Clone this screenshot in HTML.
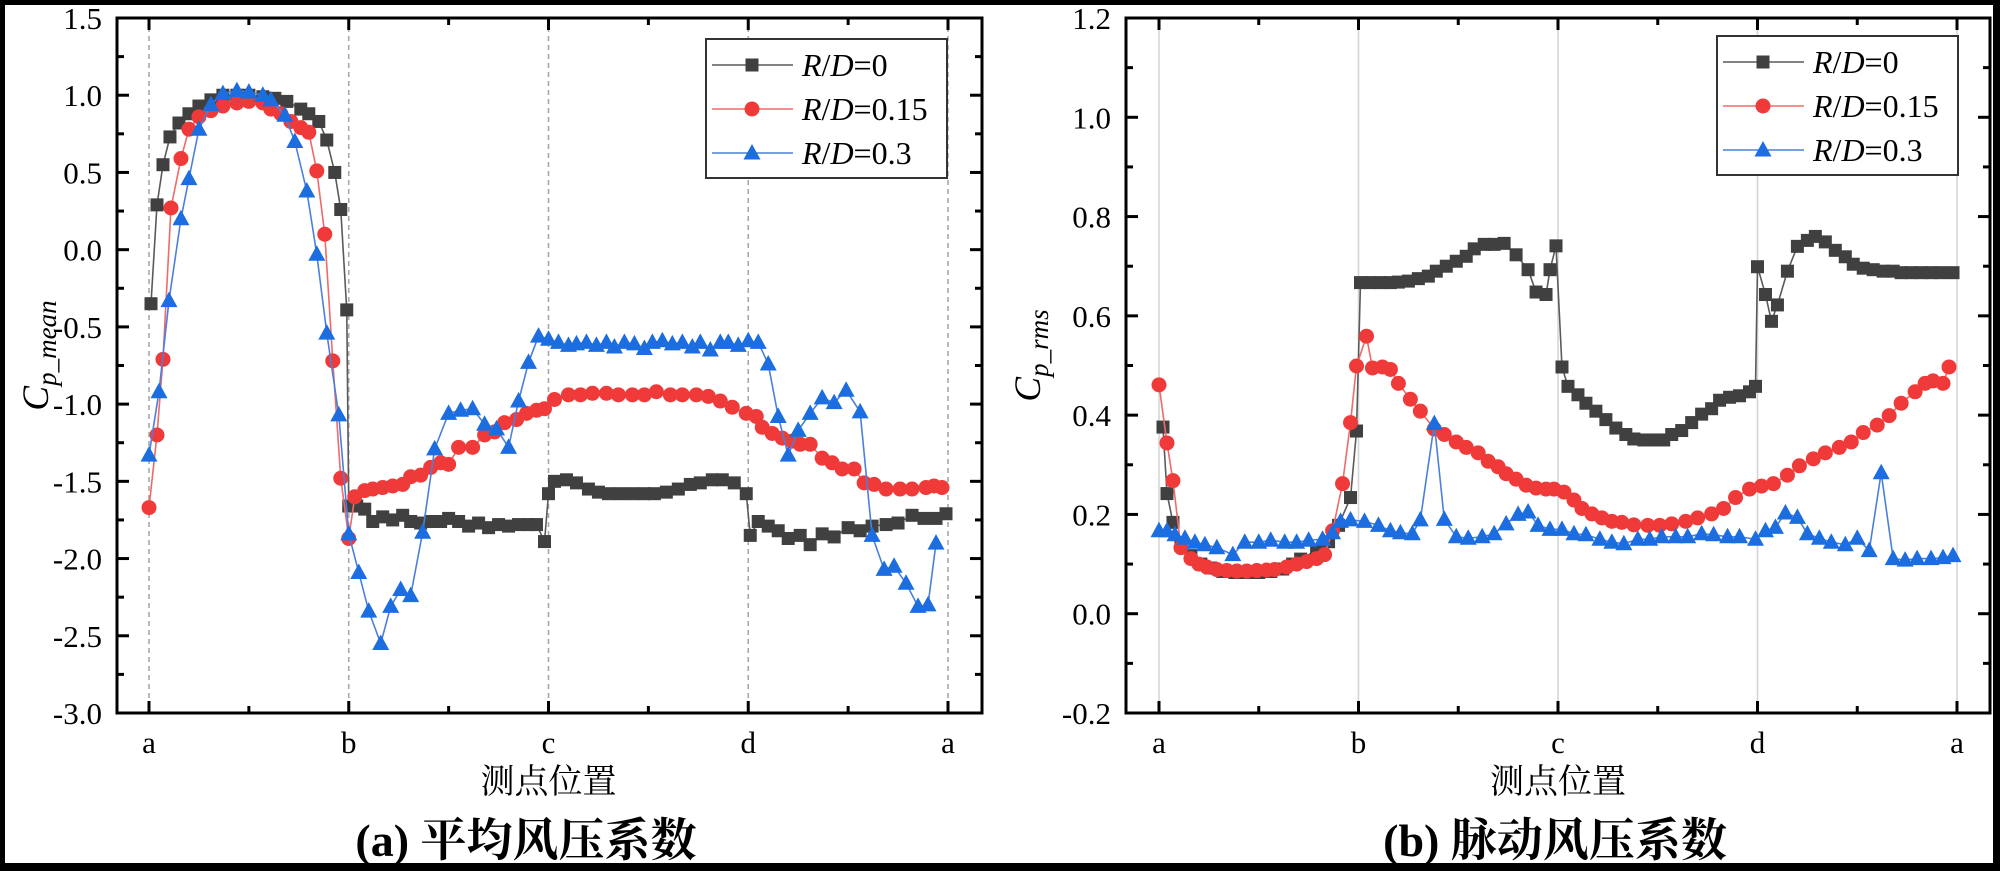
<!DOCTYPE html>
<html><head><meta charset="utf-8">
<style>
html,body{margin:0;padding:0;background:#fff;}
svg{display:block;}
text{font-family:"Liberation Serif","Noto Serif CJK SC",serif;}
</style></head>
<body>
<svg id="fig" width="2000" height="871" viewBox="0 0 2000 871" xmlns="http://www.w3.org/2000/svg">
<rect x="0" y="0" width="2000" height="871" fill="#fff"/>
</svg>
<script>
const catLabels = ['a','b','c','d','a'];

const meanRD0 = [[0.01,-0.35],[0.04,0.29],[0.07,0.55],[0.105,0.73],[0.15,0.82],[0.2,0.88],[0.25,0.93],[0.31,0.97],[0.37,1.0],[0.44,1.0],[0.5,1.0],[0.57,0.99],[0.63,0.98],[0.69,0.96],[0.76,0.91],[0.8,0.88],[0.85,0.83],[0.89,0.71],[0.93,0.5],[0.96,0.26],[0.99,-0.39],
[1.0,-1.66],[1.04,-1.66],[1.08,-1.68],[1.12,-1.76],[1.17,-1.73],[1.22,-1.75],[1.27,-1.72],[1.31,-1.76],[1.36,-1.77],[1.41,-1.76],[1.46,-1.76],[1.5,-1.74],[1.55,-1.76],[1.6,-1.79],[1.65,-1.77],[1.7,-1.8],[1.75,-1.78],[1.8,-1.79],[1.85,-1.78],[1.9,-1.78],[1.94,-1.78],[1.98,-1.89],
[2.0,-1.58],[2.03,-1.5],[2.09,-1.49],[2.14,-1.51],[2.2,-1.55],[2.25,-1.57],[2.3,-1.58],[2.36,-1.58],[2.42,-1.58],[2.48,-1.58],[2.53,-1.58],[2.59,-1.57],[2.65,-1.55],[2.71,-1.52],[2.76,-1.51],[2.82,-1.49],[2.87,-1.49],[2.93,-1.51],[2.99,-1.58],
[3.01,-1.85],[3.05,-1.76],[3.1,-1.79],[3.15,-1.82],[3.2,-1.87],[3.26,-1.85],[3.31,-1.91],[3.37,-1.84],[3.43,-1.86],[3.5,-1.8],[3.56,-1.82],[3.62,-1.79],[3.69,-1.78],[3.75,-1.77],[3.82,-1.72],[3.88,-1.74],[3.94,-1.74],[3.99,-1.71]];
const meanRD015 = [[0,-1.67],[0.04,-1.2],[0.07,-0.71],[0.11,0.27],[0.16,0.59],[0.2,0.78],[0.25,0.86],[0.31,0.9],[0.37,0.93],[0.44,0.95],[0.5,0.96],[0.57,0.95],[0.61,0.91],[0.66,0.88],[0.71,0.83],[0.76,0.79],[0.8,0.76],[0.84,0.51],[0.88,0.1],[0.92,-0.72],[0.96,-1.48],[1.0,-1.87],
[1.03,-1.6],[1.08,-1.56],[1.12,-1.55],[1.17,-1.54],[1.22,-1.53],[1.27,-1.52],[1.31,-1.47],[1.36,-1.46],[1.41,-1.41],[1.46,-1.38],[1.5,-1.39],[1.55,-1.28],[1.62,-1.28],[1.68,-1.2],[1.73,-1.18],[1.78,-1.12],[1.84,-1.1],[1.89,-1.06],[1.94,-1.04],[1.98,-1.03],
[2.03,-0.97],[2.1,-0.94],[2.16,-0.94],[2.22,-0.93],[2.29,-0.93],[2.35,-0.94],[2.42,-0.94],[2.48,-0.94],[2.54,-0.92],[2.61,-0.94],[2.67,-0.94],[2.74,-0.94],[2.8,-0.95],[2.86,-0.98],[2.92,-1.02],[2.99,-1.06],
[3.04,-1.08],[3.07,-1.15],[3.12,-1.19],[3.17,-1.22],[3.22,-1.24],[3.26,-1.26],[3.31,-1.26],[3.37,-1.35],[3.42,-1.38],[3.47,-1.42],[3.53,-1.42],[3.58,-1.51],[3.63,-1.52],[3.69,-1.55],[3.76,-1.55],[3.82,-1.55],[3.89,-1.54],[3.93,-1.53],[3.97,-1.54]];
const meanRD03 = [[0,-1.33],[0.05,-0.92],[0.1,-0.33],[0.16,0.2],[0.2,0.46],[0.25,0.78],[0.31,0.94],[0.37,1.01],[0.44,1.03],[0.5,1.02],[0.57,1.0],[0.61,0.97],[0.68,0.87],[0.73,0.7],[0.79,0.38],[0.84,-0.03],[0.89,-0.54],[0.95,-1.07],[1.0,-1.84],
[1.05,-2.09],[1.1,-2.34],[1.16,-2.55],[1.21,-2.31],[1.26,-2.2],[1.31,-2.24],[1.37,-1.83],[1.43,-1.29],[1.5,-1.06],[1.56,-1.04],[1.62,-1.03],[1.68,-1.13],[1.74,-1.16],[1.8,-1.28],[1.85,-0.98],[1.9,-0.73],[1.95,-0.56],
[2.0,-0.58],[2.05,-0.6],[2.1,-0.62],[2.14,-0.61],[2.19,-0.6],[2.24,-0.62],[2.29,-0.6],[2.33,-0.63],[2.38,-0.6],[2.43,-0.61],[2.48,-0.64],[2.52,-0.6],[2.57,-0.59],[2.62,-0.61],[2.67,-0.6],[2.72,-0.63],[2.76,-0.6],[2.81,-0.65],[2.86,-0.6],[2.9,-0.6],[2.95,-0.62],[3.0,-0.59],
[3.05,-0.6],[3.1,-0.74],[3.15,-1.08],[3.2,-1.33],[3.25,-1.17],[3.31,-1.06],[3.37,-0.96],[3.43,-0.99],[3.49,-0.91],[3.56,-1.05],[3.62,-1.85],[3.68,-2.07],[3.73,-2.05],[3.79,-2.16],[3.85,-2.31],[3.9,-2.3],[3.94,-1.9]];
const meanTicks = [1.5,1.0,0.5,0.0,-0.5,-1.0,-1.5,-2.0,-2.5,-3.0];

const rmsRD0 = [[0.02,0.376],[0.04,0.242],[0.07,0.184],[0.11,0.139],[0.16,0.117],[0.21,0.1],[0.26,0.092],[0.32,0.085],[0.38,0.083],[0.44,0.083],[0.5,0.083],[0.56,0.085],[0.62,0.09],[0.67,0.1],[0.71,0.11],[0.79,0.128],[0.85,0.145],[0.9,0.178],[0.96,0.234],[0.99,0.368],
[1.01,0.667],[1.06,0.667],[1.11,0.667],[1.16,0.667],[1.2,0.668],[1.25,0.67],[1.3,0.675],[1.35,0.68],[1.39,0.69],[1.44,0.7],[1.49,0.71],[1.54,0.72],[1.58,0.735],[1.63,0.744],[1.68,0.744],[1.73,0.746],[1.79,0.723],[1.85,0.693],[1.89,0.648],[1.94,0.643],[1.96,0.693],[1.99,0.741],
[2.02,0.497],[2.05,0.458],[2.1,0.441],[2.14,0.424],[2.19,0.408],[2.24,0.391],[2.29,0.374],[2.34,0.361],[2.38,0.352],[2.43,0.35],[2.48,0.35],[2.53,0.35],[2.57,0.361],[2.62,0.369],[2.67,0.385],[2.72,0.402],[2.77,0.413],[2.81,0.43],[2.86,0.436],[2.91,0.439],[2.96,0.447],[2.99,0.458],
[3.0,0.699],[3.04,0.643],[3.07,0.589],[3.1,0.622],[3.15,0.69],[3.2,0.74],[3.25,0.752],[3.29,0.76],[3.34,0.749],[3.39,0.732],[3.44,0.719],[3.48,0.704],[3.53,0.696],[3.58,0.693],[3.63,0.69],[3.68,0.69],[3.72,0.687],[3.77,0.687],[3.82,0.687],[3.87,0.687],[3.92,0.687],[3.98,0.687]];
const rmsRD015 = [[0,0.461],[0.04,0.344],[0.07,0.268],[0.11,0.133],[0.16,0.111],[0.2,0.1],[0.24,0.094],[0.29,0.089],[0.34,0.087],[0.39,0.086],[0.44,0.086],[0.49,0.087],[0.54,0.088],[0.58,0.089],[0.64,0.094],[0.69,0.1],[0.74,0.105],[0.79,0.111],[0.83,0.119],[0.87,0.167],[0.92,0.262],[0.96,0.385],[0.99,0.499],
[1.04,0.559],[1.07,0.495],[1.12,0.497],[1.16,0.492],[1.2,0.464],[1.26,0.432],[1.31,0.408],[1.38,0.372],[1.43,0.361],[1.49,0.346],[1.54,0.335],[1.6,0.324],[1.65,0.307],[1.7,0.296],[1.74,0.282],[1.79,0.271],[1.84,0.259],[1.89,0.253],[1.94,0.251],[1.98,0.251],
[2.03,0.245],[2.08,0.229],[2.12,0.212],[2.17,0.201],[2.22,0.193],[2.27,0.186],[2.32,0.184],[2.38,0.179],[2.45,0.178],[2.51,0.178],[2.57,0.181],[2.64,0.186],[2.7,0.193],[2.77,0.201],[2.83,0.212],[2.89,0.234],[2.96,0.251],
[3.02,0.257],[3.08,0.262],[3.15,0.279],[3.21,0.298],[3.28,0.312],[3.34,0.324],[3.41,0.335],[3.47,0.346],[3.53,0.365],[3.6,0.38],[3.66,0.399],[3.72,0.424],[3.79,0.447],[3.84,0.464],[3.88,0.469],[3.93,0.464],[3.96,0.497]];
const rmsRD03 = [[0,0.167],[0.04,0.167],[0.08,0.159],[0.13,0.152],[0.18,0.144],[0.23,0.139],[0.29,0.133],[0.37,0.119],[0.43,0.144],[0.5,0.144],[0.56,0.148],[0.63,0.144],[0.69,0.144],[0.75,0.148],[0.82,0.15],[0.87,0.163],[0.91,0.186],[0.96,0.189],
[1.03,0.186],[1.1,0.178],[1.16,0.167],[1.21,0.163],[1.27,0.161],[1.31,0.189],[1.38,0.383],[1.43,0.19],[1.49,0.155],[1.55,0.152],[1.62,0.155],[1.68,0.161],[1.74,0.181],[1.8,0.2],[1.85,0.205],[1.9,0.178],[1.96,0.17],
[2.02,0.17],[2.08,0.161],[2.14,0.159],[2.21,0.15],[2.27,0.144],[2.33,0.141],[2.4,0.15],[2.46,0.15],[2.52,0.155],[2.59,0.155],[2.65,0.155],[2.72,0.161],[2.78,0.159],[2.85,0.155],[2.91,0.155],[2.99,0.15],
[3.04,0.167],[3.09,0.174],[3.14,0.203],[3.2,0.194],[3.25,0.161],[3.31,0.152],[3.37,0.144],[3.44,0.139],[3.5,0.152],[3.56,0.127],[3.62,0.284],[3.68,0.111],[3.74,0.108],[3.8,0.111],[3.87,0.111],[3.93,0.113],[3.98,0.117]];
const rmsTicks = [1.2,1.0,0.8,0.6,0.4,0.2,0.0,-0.2];

const legendLabels = ['0','0.15','0.3'];

const NS = 'http://www.w3.org/2000/svg';
const svg = document.getElementById('fig');
function mk(tag, attrs, parent){
  const e = document.createElementNS(NS, tag);
  for (const k in attrs) e.setAttribute(k, attrs[k]);
  (parent||svg).appendChild(e);
  return e;
}

const styles = [
  {line:'#5a5a5a', fill:'#404040', shape:'square'},
  {line:'#f06a6a', fill:'#f03a3a', shape:'circle'},
  {line:'#4a80dc', fill:'#1b6de0', shape:'triangle'}
];

function marker(g, shape, cx, cy, fill){
  let m;
  if (shape==='square') m = mk('rect',{x:cx-6.5,y:cy-6.5,width:13,height:13,fill:fill},g);
  else if (shape==='circle') m = mk('circle',{cx:cx,cy:cy,r:7.5,fill:fill},g);
  else m = mk('polygon',{points:`${cx},${cy-9} ${cx-8.5},${cy+6.5} ${cx+8.5},${cy+6.5}`,fill:fill},g);
  return m;
}

function drawChart(cfg){
  const {id, fx0, fx1, fy0, fy1, xa0, side, ymax, ymin, ticks, minorStep, series, grid, ylabX, ysub, titleX, titleText, legX, legY} = cfg;
  const X = v => xa0 + v*side;
  const Y = v => fy0 + (ymax - v)/(ymax - ymin)*(fy1 - fy0);
  const g = mk('g',{});
  
  
  for (let i=0;i<catLabels.length;i++){
    const gl = mk('line',{x1:X(i),x2:X(i),y1:fy0,y2:fy1,stroke:grid==='dash'?'#a8a8a8':'#d6d6d6','stroke-width':1.6,'stroke-dasharray':grid==='dash'?'5,4':'none'},g);
    
    
  }
  series.forEach((s, si)=>{
    const st = styles[si];
    const sg = mk('g',{},g);
    
    
    const pl = mk('polyline',{points:s.map(p=>X(p[0])+','+Y(p[1])).join(' '),fill:'none',stroke:st.line,'stroke-width':1.6},sg);
    
    
    s.forEach(p=>{
      const m = marker(sg, st.shape, X(p[0]), Y(p[1]), st.fill);
      
      
    });
  });
  const fr = mk('rect',{x:fx0,y:fy0,width:fx1-fx0,height:fy1-fy0,fill:'none',stroke:'#000','stroke-width':3},g);
  
  
  for (let i=0;i<catLabels.length;i++){
    mk('line',{x1:X(i),x2:X(i),y1:fy1,y2:fy1-12,stroke:'#000','stroke-width':3},g);
    mk('line',{x1:X(i),x2:X(i),y1:fy0,y2:fy0+12,stroke:'#000','stroke-width':3},g);
    if (i<catLabels.length-1){
      const xm = X(i+0.5);
      mk('line',{x1:xm,x2:xm,y1:fy1,y2:fy1-7,stroke:'#000','stroke-width':3},g);
      mk('line',{x1:xm,x2:xm,y1:fy0,y2:fy0+7,stroke:'#000','stroke-width':3},g);
    }
    const t = mk('text',{x:X(i),y:fy1+40,'font-size':31,'text-anchor':'middle',fill:'#000'},g);
    t.textContent = catLabels[i];
    
    
  }
  ticks.forEach((v)=>{
    const y = Y(v);
    mk('line',{x1:fx0,x2:fx0+12,y1:y,y2:y,stroke:'#000','stroke-width':3},g);
    mk('line',{x1:fx1,x2:fx1-12,y1:y,y2:y,stroke:'#000','stroke-width':3},g);
    const t = mk('text',{x:fx0-15,y:y+11,'font-size':31,'text-anchor':'end',fill:'#000'},g);
    t.textContent = v.toFixed(1);
    
    
  });
  for (let v=ymin+minorStep; v<ymax-1e-6; v+=2*minorStep){
    const y = Y(v);
    mk('line',{x1:fx0,x2:fx0+7,y1:y,y2:y,stroke:'#000','stroke-width':3},g);
    mk('line',{x1:fx1,x2:fx1-7,y1:y,y2:y,stroke:'#000','stroke-width':3},g);
  }
  const xt = mk('text',{x:(X(0)+X(4))/2,y:fy1+80,'font-size':34,'text-anchor':'middle',fill:'#000'},g);
  xt.textContent = '测点位置';
  
  
  const yc = (fy0+fy1)/2 - 10;
  const yt = mk('text',{x:0,y:0,'font-size':37,'font-style':'italic','text-anchor':'middle',fill:'#000',transform:`translate(${ylabX},${yc}) rotate(-90)`},g);
  
  
  const ts1 = mk('tspan',{},yt); ts1.textContent='C';
  const ts2 = mk('tspan',{'font-size':27,dy:8},yt); ts2.textContent = ysub;
  const tt = mk('text',{x:titleX,y:856,'font-size':46,'font-weight':'bold','text-anchor':'middle',fill:'#000'},g);
  tt.textContent = titleText;
  
  
  const lg = mk('g',{},g);
  
  
  mk('rect',{x:legX,y:legY,width:241,height:139,fill:'#fff',stroke:'#333','stroke-width':2},lg);
  legendLabels.forEach((lab,i)=>{
    const ey = legY + 26 + i*44;
    const eg = mk('g',{},lg);
    
    
    mk('line',{x1:legX+6,x2:legX+87,y1:ey,y2:ey,stroke:styles[i].line,'stroke-width':1.6},eg);
    marker(eg, styles[i].shape, legX+46, ey, styles[i].fill);
    const t = mk('text',{x:legX+96,y:ey+11,'font-size':32,fill:'#000'},eg);
    const a = mk('tspan',{'font-style':'italic'},t); a.textContent='R';
    const b = mk('tspan',{},t); b.textContent='/';
    const c = mk('tspan',{'font-style':'italic'},t); c.textContent='D';
    const d = mk('tspan',{},t); d.textContent='='+lab;
  });
}

drawChart({id:'mean', fx0:117, fx1:982, fy0:18, fy1:713, xa0:149, side:199.75, ymax:1.5, ymin:-3.0, ticks:meanTicks, minorStep:0.25,
  series:[meanRD0, meanRD015, meanRD03], grid:'dash', ylabX:48, ysub:'p_mean', titleX:526, titleText:'(a) 平均风压系数', legX:706, legY:39});
drawChart({id:'rms', fx0:1126, fx1:1990, fy0:18, fy1:713, xa0:1159, side:199.5, ymax:1.2, ymin:-0.2, ticks:rmsTicks, minorStep:0.1,
  series:[rmsRD0, rmsRD015, rmsRD03], grid:'solid', ylabX:1040, ysub:'p_rms', titleX:1555, titleText:'(b) 脉动风压系数', legX:1717, legY:36});

const bd = [[0,0,2000,5],[0,0,5,871],[1993,0,7,871],[0,863,2000,8]];
bd.forEach(r=>{
  const e = mk('rect',{x:r[0],y:r[1],width:r[2],height:r[3],fill:'#000'});
  
  
});
</script>
</body></html>
